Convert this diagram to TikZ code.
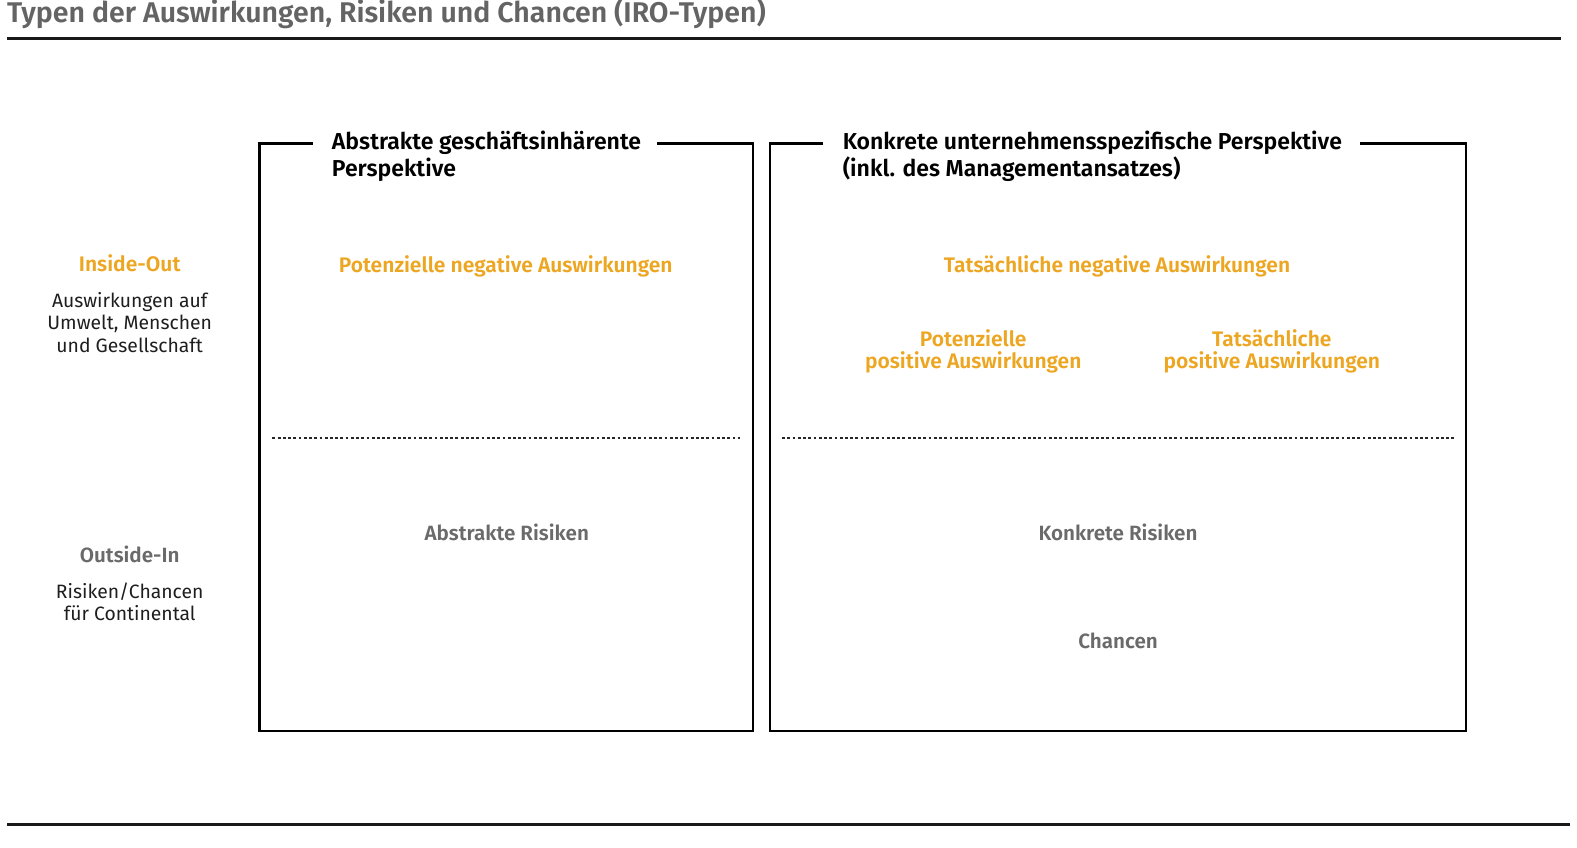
\documentclass[tikz,border=0pt]{standalone}
\usepackage{fontspec}
\setmainfont{Fira Sans}[BoldFont={Fira Sans SemiBold}]
\newfontfamily\condfont{Fira Sans}[BoldFont={Fira Sans SemiBold}]
\newfontfamily\regfont{Fira Sans}
\definecolor{orangeC}{RGB}{237,166,34}
\definecolor{grayC}{RGB}{106,106,106}
\definecolor{titleC}{RGB}{100,100,100}
\definecolor{textC}{RGB}{30,30,30}
\begin{document}
\begin{tikzpicture}[x=1bp,y=-1bp,
  frame/.style={line width=2.6bp,black},
  rule/.style={line width=2.8bp,black!90},
  sep/.style={line width=2.2bp,black!85,dash pattern=on 2.8bp off 2.4bp},
  head/.style={anchor=north west,inner sep=0pt,align=left,font=\condfont\bfseries\fontsize{23}{27}\selectfont,text=black},
  olab/.style={inner sep=0pt,align=center,font=\condfont\bfseries\fontsize{21}{22.5}\selectfont,text=orangeC},
  glab/.style={inner sep=0pt,align=center,font=\condfont\bfseries\fontsize{20.6}{22.5}\selectfont,text=grayC},
  side/.style={inner sep=0pt,align=center,font=\regfont\fontsize{19.3}{22.5}\selectfont,text=textC}]
\useasboundingbox (0,0) rectangle (1568.5,843.4);
% title and rules
\node[anchor=base west,inner sep=0pt,font=\condfont\bfseries\fontsize{28.45}{30}\selectfont,text=titleC] (title) at (7,22) {Typen der Auswirkungen, Risiken und Chancen (IRO-Typen)};
\coordinate (tl) at (7,38); \coordinate (tr) at (1553,38);
\coordinate (bl) at (7,820); \coordinate (br) at (1562,820);
\draw[rule] (tl) -- (tr);
\draw[rule] (bl) -- (br);
% box 1
\coordinate (a1) at (311,143); \coordinate (a2) at (258,143); \coordinate (a3) at (258,727);
\coordinate (a4) at (749,727); \coordinate (a5) at (749,143); \coordinate (a6) at (653,143);
\draw[frame] (a1) -- (a2) -- (a3) -- (a4) -- (a5) -- (a6);
% box 2
\coordinate (b1) at (819,143); \coordinate (b2) at (766,143); \coordinate (b3) at (766,727);
\coordinate (b4) at (1458,727); \coordinate (b5) at (1458,143); \coordinate (b6) at (1353,143);
\draw[frame] (b1) -- (b2) -- (b3) -- (b4) -- (b5) -- (b6);
% separators
\coordinate (s1) at (271,436); \coordinate (s2) at (736,436);
\coordinate (s3) at (778,436); \coordinate (s4) at (1446,436);
\draw[sep] (s1) -- (s2);
\draw[sep] (s3) -- (s4);
% headers
\node[head] (h1) at (330,130) {Abstrakte geschäftsinhärente\\Perspektive};
\node[head] (h2) at (838,130) {Konkrete unternehmensspezifische Perspektive\\(inkl. des Managementansatzes)};
% labels
\node[olab] (pna) at (503,265) {Potenzielle negative Auswirkungen};
\node[olab] (tna) at (1111,265) {Tatsächliche negative Auswirkungen};
\node[olab] (ppa) at (968,349.5) {Potenzielle\\positive Auswirkungen};
\node[olab] (tpa) at (1265,349.5) {Tatsächliche\\positive Auswirkungen};
\node[glab] (ar) at (504,530) {Abstrakte Risiken};
\node[glab] (kr) at (1112,530) {Konkrete Risiken};
\node[glab] (ch) at (1112,637) {Chancen};
% side
\node[olab] (io) at (129,262) {Inside-Out};
\node[side] (iot) at (129,320.5) {Auswirkungen auf\\Umwelt, Menschen\\und Gesellschaft};
\node[glab] (oi) at (129,551) {Outside-In};
\node[side] (oit) at (129,598.5) {Risiken/Chancen\\für Continental};
\end{tikzpicture}
\end{document}
